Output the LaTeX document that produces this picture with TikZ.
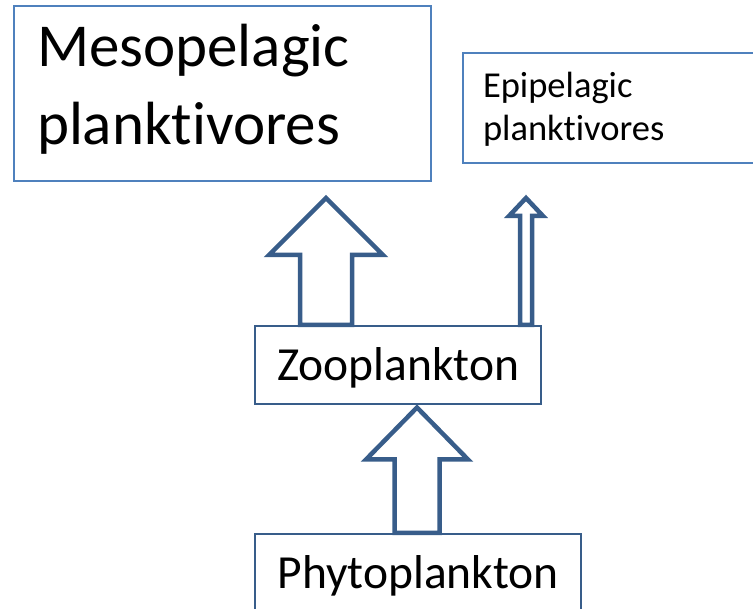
\documentclass[tikz,border=0pt]{standalone}
\usepackage{fontspec}
\setmainfont{Carlito}[RawFeature={-liga;-clig;-dlig;-calt}]
\usetikzlibrary{calc}
\definecolor{lightedge}{HTML}{4F81BD}
\definecolor{darkedge}{HTML}{385D8A}

\begin{document}
\begin{tikzpicture}[x=1pt, y=-1pt,
	fishbox/.style={draw=lightedge, line width=2pt, rectangle, anchor=north west, inner ysep=0pt, align=left},
	planktonbox/.style={draw=darkedge, line width=2.2pt, rectangle, anchor=north west, inner sep=0pt, font=\fontsize{47.5}{56}\selectfont},
	blockarrow/.style={draw=darkedge, line width=4.5pt, fill=white, line join=miter}]
	\useasboundingbox (0,0) rectangle (753,609);
	\node[fishbox, minimum width=417pt, minimum height=175pt, inner xsep=23pt, text width=371pt, text height=38pt, text depth=91pt, font=\fontsize{61}{78}\selectfont] (meso) at (13,5) {Mesopelagic\\planktivores};
	\node[fishbox, minimum width=310pt, minimum height=110pt, inner xsep=20pt, text width=270pt, text height=25pt, text depth=45pt, font=\fontsize{36.5}{43}\selectfont] (epi) at (462,52) {Epipelagic\\planktivores};
	\node[planktonbox, minimum width=286pt, minimum height=78pt, text height=34pt, text depth=4pt, xshift=-2.5pt] (zoo) at (256.5,325) {Zooplankton};
	\node[planktonbox, minimum width=326pt, minimum height=85pt, text height=30pt, text depth=7pt] (phyto) at (254,533) {Phytoplankton};
	% arrows up the food chain
	\draw[blockarrow] ($(zoo.north west)+(46,0)$) -- ++(0,-70) -- ++(-31,0) -- ++(57,-57) -- ++(57,57) -- ++(-31,0) -- ++(0,70) -- cycle;
	\draw[blockarrow] ($(zoo.north west)+(266,0)$) -- ++(0,-109) -- ++(-11,0) -- ++(17,-18) -- ++(17,18) -- ++(-11,0) -- ++(0,109) -- cycle;
	\draw[blockarrow] ($(phyto.north west)+(140.5,0)$) -- ++(0,-73.5) -- ++(-28.5,0) -- ++(51,-52) -- ++(51,52) -- ++(-28.5,0) -- ++(0,73.5) -- cycle;
\end{tikzpicture}
\end{document}
